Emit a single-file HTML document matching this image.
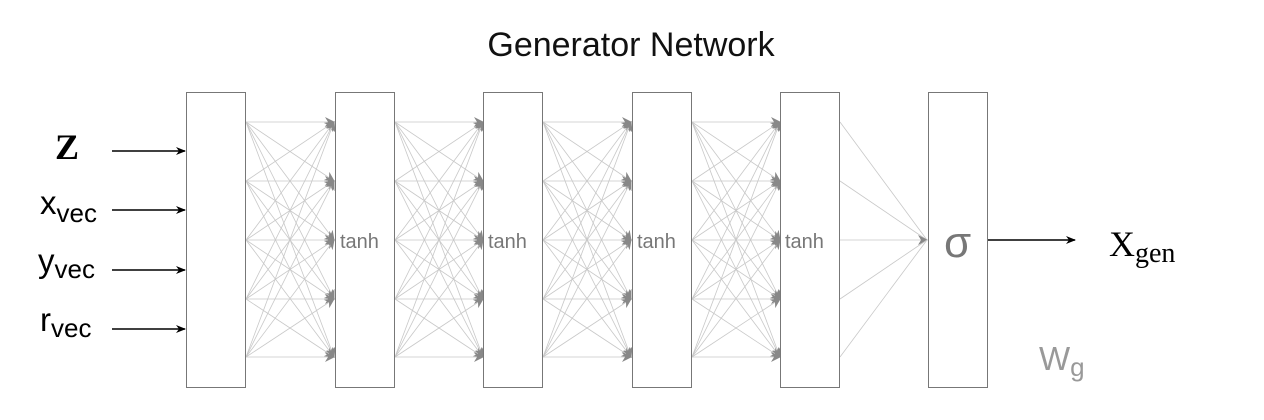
<!DOCTYPE html>
<html><head><meta charset="utf-8"><style>
html,body{margin:0;padding:0;background:#fff;width:1264px;height:420px;overflow:hidden}
</style></head><body>
<svg id="s" width="1264" height="420" xmlns="http://www.w3.org/2000/svg">
<defs>
<marker id="a" markerWidth="10" markerHeight="8" refX="9" refY="4" orient="auto" markerUnits="userSpaceOnUse"><path d="M0,0 L10,4 L0,8 L3,4 z" fill="#000"/></marker>
<marker id="g" markerWidth="10" markerHeight="10" refX="9" refY="5" orient="auto" markerUnits="userSpaceOnUse"><path d="M0,0 L10,5 L0,10 L3,5 z" fill="#888"/></marker>
</defs>
<g id="lines" stroke="#c8c8c8" stroke-width="0.8" fill="none"></g>
<g fill="#fff" stroke="#777" stroke-width="1">
<rect x="186.5" y="92.5" width="59" height="295"/>
<rect x="335.5" y="92.5" width="59" height="295"/>
<rect x="483.5" y="92.5" width="59" height="295"/>
<rect x="632.5" y="92.5" width="59" height="295"/>
<rect x="780.5" y="92.5" width="59" height="295"/>
<rect x="928.5" y="92.5" width="59" height="295"/>
</g>
<g stroke="#000" stroke-width="1.5" marker-end="url(#a)">
<line x1="112" y1="151" x2="185" y2="151"/>
<line x1="112" y1="210" x2="185" y2="210"/>
<line x1="112" y1="270" x2="185" y2="270"/>
<line x1="112" y1="329" x2="185" y2="329"/>
<line x1="988" y1="240" x2="1075" y2="240"/>
</g>
<text x="631" y="56" font-family="Liberation Sans, sans-serif" font-size="34" text-anchor="middle" fill="#111">Generator Network</text>
<text x="55" y="159" font-family="Liberation Serif, serif" font-weight="bold" font-size="36">Z</text>
<text x="40" y="214" font-family="Liberation Sans, sans-serif" font-size="33">x<tspan font-size="26" dy="8">vec</tspan></text>
<text x="38" y="272" font-family="Liberation Sans, sans-serif" font-size="33">y<tspan font-size="26" dy="6">vec</tspan></text>
<text x="40" y="331" font-family="Liberation Sans, sans-serif" font-size="33">r<tspan font-size="26" dy="6">vec</tspan></text>
<g font-family="Liberation Sans, sans-serif" font-size="20" fill="#777">
<text x="340" y="248">tanh</text><text x="488" y="248">tanh</text><text x="637" y="248">tanh</text><text x="785" y="248">tanh</text>
</g>
<text x="944" y="257" font-family="Liberation Sans, sans-serif" font-size="44" fill="#777">σ</text>
<text x="1109" y="256" font-family="Liberation Serif, serif" font-size="36">X<tspan font-size="28" dy="6">gen</tspan></text>
<text x="1039" y="370" font-family="Liberation Sans, sans-serif" font-size="33" fill="#999">W<tspan font-size="26" dy="6">g</tspan></text>
</svg>
<script>
var g=document.getElementById('lines'),ns='http://www.w3.org/2000/svg';
var ys=[122,181,240,299,357],xs=[245,394,542,691];
function L(x1,y1,x2,y2,m){var l=document.createElementNS(ns,'line');l.setAttribute('x1',x1);l.setAttribute('y1',y1);l.setAttribute('x2',x2);l.setAttribute('y2',y2);if(m)l.setAttribute('marker-end','url(#g)');g.appendChild(l);}
xs.forEach(function(x){ys.forEach(function(a){ys.forEach(function(b){L(x+1,a,x+89,b,true);});});});
ys.forEach(function(a){L(840,a,927,240,a==240);});
</script>
</body></html>
